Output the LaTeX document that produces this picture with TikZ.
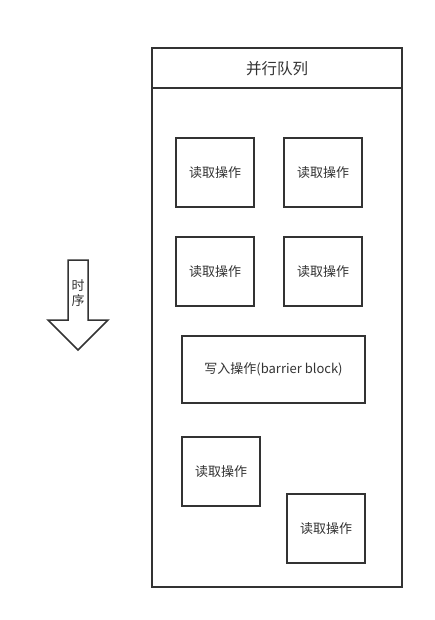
\documentclass[tikz,border=0pt]{standalone}
\usepackage{fontspec}
\newfontfamily\cjk{Noto Sans CJK SC}
\definecolor{ln}{HTML}{333333}
\definecolor{tx}{HTML}{333333}
\begin{document}
\begin{tikzpicture}[x=1pt,y=-1pt,
  box/.style={draw=ln,line width=2pt,fill=white,inner sep=0pt,font=\cjk\fontsize{13}{15}\selectfont,text=tx},
  lbl/.style={inner sep=0pt,font=\cjk\fontsize{13}{15}\selectfont,text=tx}]
\useasboundingbox[fill=white] (0,0) rectangle (434,620);
% container
\draw[ln,line width=2pt] (152,48) rectangle (402,587);
\draw[ln,line width=2pt] (152,88) -- (402,88);
\node[lbl,font=\cjk\fontsize{15.5}{18}\selectfont] (title) at (277,69) {并行队列};
% boxes
\node[box,minimum width=78pt,minimum height=69pt] (r1) at (215,172.5) {读取操作};
\node[box,minimum width=78pt,minimum height=69pt] (r2) at (323,172.5) {读取操作};
\node[box,minimum width=78pt,minimum height=69pt] (r3) at (215,271.5) {读取操作};
\node[box,minimum width=78pt,minimum height=69pt] (r4) at (323,271.5) {读取操作};
\node[box,minimum width=183pt,minimum height=67pt] (w) at (273.5,369.5) {写入操作(barrier block)};
\node[box,minimum width=78pt,minimum height=69pt] (r5) at (221,471.5) {读取操作};
\node[box,minimum width=78pt,minimum height=69pt] (r6) at (326,528.5) {读取操作};
% time arrow
\draw[ln,line width=1.5pt,line join=miter] (68,260) -- (88,260) -- (88,320) -- (108,320) -- (78,350) -- (48,320) -- (68,320) -- cycle;
\node[lbl] (t1) at (78,286) {时};
\node[lbl] (t2) at (78,301) {序};
\end{tikzpicture}
\end{document}
